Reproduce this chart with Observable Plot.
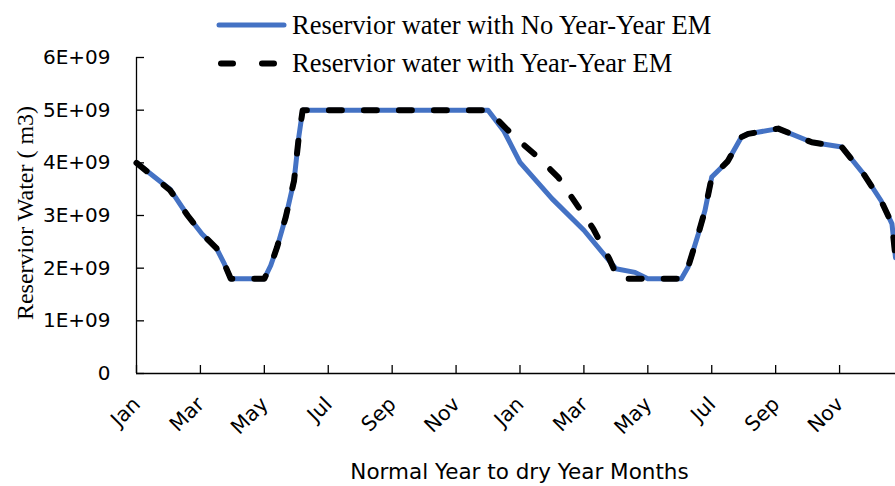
<!DOCTYPE html>
<html><head><meta charset="utf-8">
<script src="https://cdn.jsdelivr.net/npm/d3@7"></script>
<script src="https://cdn.jsdelivr.net/npm/@observablehq/plot@0.6"></script>
<style>
html,body{margin:0;padding:0;background:#fff;}
#wrap{position:relative;width:895px;height:486px;overflow:hidden;background:#fff;}
#legend{position:absolute;left:0;top:0;pointer-events:none;}
</style></head>
<body><div id="wrap"></div>
<script>
// ---- data ----
const seriesNames = ["Reservior water with No Year-Year EM", "Reservior water with Year-Year EM"];
// month index: 0 = Jan of normal year, 12 = Jan of dry year
const monthsNoEM = [0, 1.05, 1.6, 2.05, 2.5, 2.75, 2.95, 4, 4.2, 4.4, 4.67, 4.93, 5.08, 5.2, 11,
  11.5, 12, 13, 14, 15, 15.6, 16, 17.05, 17.26, 17.58, 17.79, 18, 18.5, 18.93, 19.14, 20.08, 21.13, 22.07, 22.75, 23.3, 23.64, 23.75];
const valuesNoEM = [4.0e9, 3.5e9, 3.0e9, 2.65e9, 2.38e9, 2.08e9, 1.8e9, 1.8e9, 2.05e9, 2.4e9, 2.97e9, 3.66e9, 4.5e9, 5.0e9, 5.0e9,
  4.6e9, 4.01e9, 3.32e9, 2.72e9, 1.99e9, 1.92e9, 1.8e9, 1.8e9, 2.02e9, 2.65e9, 3.1e9, 3.73e9, 4.03e9, 4.49e9, 4.55e9, 4.65e9, 4.39e9, 4.3e9, 3.79e9, 3.28e9, 2.84e9, 2.2e9];
const monthsEM = [0, 1.05, 1.6, 2.05, 2.5, 2.75, 2.95, 4, 4.2, 4.4, 4.67, 4.93, 5.08, 5.2, 11,
  11.83, 12.56, 13.19, 13.76, 14.29, 14.8, 15.07, 17.05, 17.26, 17.58, 17.79, 18, 18.5, 18.93, 19.14, 20.08, 21.13, 22.07, 22.75, 23.3, 23.64, 23.75];
const valuesEM = [4.0e9, 3.48e9, 3.0e9, 2.65e9, 2.38e9, 2.08e9, 1.8e9, 1.8e9, 2.05e9, 2.4e9, 2.97e9, 3.66e9, 4.5e9, 5.0e9, 5.0e9,
  4.49e9, 4.11e9, 3.73e9, 3.22e9, 2.75e9, 2.17e9, 1.8e9, 1.8e9, 2.02e9, 2.65e9, 3.1e9, 3.73e9, 4.03e9, 4.49e9, 4.55e9, 4.65e9, 4.39e9, 4.3e9, 3.79e9, 3.28e9, 2.84e9, 2.2e9];
const xTickMonths = [0, 2, 4, 6, 8, 10, 12, 14, 16, 18, 20, 22];
const xTickLabels = ["Jan", "Mar", "May", "Jul", "Sep", "Nov", "Jan", "Mar", "May", "Jul", "Sep", "Nov"];
const yTicks = [0, 1e9, 2e9, 3e9, 4e9, 5e9, 6e9];
const yTickLabels = ["0", "1E+09", "2E+09", "3E+09", "4E+09", "5E+09", "6E+09"];
const xTitle = "Normal Year to dry Year Months";
const yTitle = "Reservior Water ( m3)";

// ---- chart ----
const noEM = monthsNoEM.map((m, i) => ({month: m, water: valuesNoEM[i]}));
const withEM = monthsEM.map((m, i) => ({month: m, water: valuesEM[i]}));

const W = 895, H = 486, mL = 136, mR = 0, mT = 57, mB = 113;
const frameW = W - mL - mR, frameH = H - mT - mB;
const sans = "DejaVu Sans", serif = "Liberation Serif";
const blue = "#4472C4";

const chart = Plot.plot({
  width: W, height: H,
  marginLeft: mL, marginRight: mR, marginTop: mT, marginBottom: mB,
  x: {domain: [0, 23.75], axis: null},
  y: {domain: [0, 6e9], axis: null},
  style: {background: "white", fontFamily: sans, overflow: "visible"},
  marks: [
    Plot.ruleY([0], {stroke: "black", strokeWidth: 1.3}),
    Plot.ruleX([0], {stroke: "black", strokeWidth: 1.3}),
    Plot.tickX(xTickMonths, {x: d => d, insetTop: frameH - 8, stroke: "black", strokeWidth: 1.3}),
    Plot.tickY(yTicks, {y: d => d, insetRight: frameW - 8, stroke: "black", strokeWidth: 1.3}),
    Plot.text(xTickMonths, {x: d => d, text: (d, i) => xTickLabels[i], frameAnchor: "bottom",
      rotate: -45, textAnchor: "end", lineAnchor: "bottom", dx: 5, dy: 32,
      fontSize: 20.5, fontFamily: sans, fill: "black"}),
    Plot.text(yTicks, {y: d => d, text: (d, i) => yTickLabels[i], frameAnchor: "left",
      textAnchor: "end", lineAnchor: "middle", dx: -26, fontSize: 20, fontFamily: sans, fill: "black"}),
    Plot.text([xTitle], {text: d => d, frameAnchor: "bottom", textAnchor: "middle", lineAnchor: "bottom",
      dx: 3.5, dy: 105, fontSize: 21.5, fontFamily: sans, fill: "black"}),
    Plot.text([yTitle], {text: d => d, frameAnchor: "left", textAnchor: "middle", rotate: -90, lineAnchor: "bottom",
      dx: -104, dy: -2.5, fontSize: 24, fontFamily: serif, fill: "black"}),
    Plot.line(noEM, {x: "month", y: "water", stroke: blue, strokeWidth: 5,
      strokeLinejoin: "round", strokeLinecap: "round"}),
    Plot.line(withEM, {x: "month", y: "water", stroke: "black", strokeWidth: 6,
      strokeDasharray: "13,22", strokeLinecap: "round", strokeLinejoin: "round"})
  ]
});

const wrap = document.getElementById("wrap");
wrap.appendChild(chart);

// ---- legend (overlay above plot) ----
const leg = d3.create("svg").attr("id", "legend").attr("width", W).attr("height", 90);
const g1 = leg.append("g");
g1.append("line").attr("x1", 219).attr("x2", 284).attr("y1", 25).attr("y2", 25)
  .attr("stroke", blue).attr("stroke-width", 5).attr("stroke-linecap", "round");
g1.append("text").attr("x", 292).attr("y", 33.5).attr("font-family", serif).attr("font-size", 26.5)
  .attr("fill", "black").text(seriesNames[0]);
const g2 = leg.append("g");
g2.append("line").attr("x1", 221).attr("x2", 277).attr("y1", 63.5).attr("y2", 63.5)
  .attr("stroke", "black").attr("stroke-width", 6).attr("stroke-linecap", "round")
  .attr("stroke-dasharray", "12,29");
g2.append("text").attr("x", 292).attr("y", 72).attr("font-family", serif).attr("font-size", 26.5)
  .attr("fill", "black").text(seriesNames[1]);
wrap.appendChild(leg.node());
</script>
</body></html>
